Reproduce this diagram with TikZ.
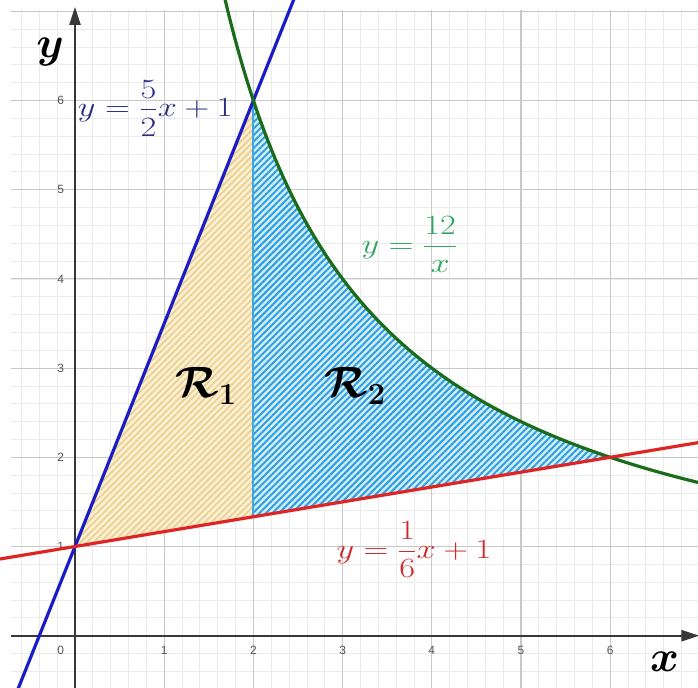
\RequirePackage{fix-cm}
\documentclass[tikz,border=0pt]{standalone}
\usepackage{fontspec}
\usepackage{amsmath,bm,graphicx}
\newfontfamily\tickfont{Liberation Sans}
\usetikzlibrary{patterns.meta,arrows.meta}
\definecolor{gridmajor}{HTML}{C8C8C8}
\definecolor{gridminor}{HTML}{EBEBEB}
\definecolor{axiscol}{HTML}{383838}
\definecolor{bluel}{HTML}{1C1CC4}
\definecolor{navylab}{HTML}{2B2B86}
\definecolor{greenl}{HTML}{1A6B1A}
\definecolor{greenlab}{HTML}{2EA65C}
\definecolor{redl}{HTML}{E02424}
\definecolor{redlab}{HTML}{CC2A2A}
\definecolor{yelbg}{HTML}{FCF0D2}
\definecolor{yelhatch}{HTML}{EBD094}
\definecolor{bluebg}{HTML}{D2EEFB}
\definecolor{bluehatch}{HTML}{2F9EE0}
\definecolor{vlinecol}{HTML}{3AA8E8}
\definecolor{tickcol}{HTML}{555555}
\newcommand{\wideeq}[1]{\scalebox{1.23}[1]{#1}}
\tikzset{
  ticklab/.style={font=\tickfont\fontsize{12}{13}\selectfont, text=tickcol, inner sep=0pt},
  eqlab/.style={font=\fontsize{28}{30}\selectfont, inner sep=0pt},
  reglab/.style={font=\fontsize{44}{46}\selectfont, inner sep=0pt},
  curve/.style={line width=3.2bp},
}
\begin{document}
\begin{tikzpicture}[x=89.2bp,y=89.2bp]
\useasboundingbox (-0.84081,-0.58632) rectangle (6.98430,7.12668);
% grid
\begin{scope}
  \clip (-0.7175,-0.59) rectangle (6.99,7.012);
  \draw[gridminor, line width=0.8bp] (-1,-1) grid[step=0.2] (8,8);
  \draw[gridmajor, line width=1.1bp] (-1,-1) grid[step=1] (8,8);
\end{scope}
% regions
\fill[yelbg] (0,1) -- (2,6) -- (2,4/3) -- cycle;
\fill[pattern={Lines[angle=45,distance=4.6bp,line width=1.8bp]}, pattern color=yelhatch] (0,1) -- (2,6) -- (2,4/3) -- cycle;
\fill[bluebg] (2,4/3) -- (2,6) -- plot[domain=2:6, samples=80] (\x,{12/\x}) -- cycle;
\fill[pattern={Lines[angle=45,distance=4.6bp,line width=2bp]}, pattern color=bluehatch] (2,4/3) -- (2,6) -- plot[domain=2:6, samples=80] (\x,{12/\x}) -- cycle;
\draw[vlinecol, line width=2bp] (2,4/3) -- (2,6);
% axes
\draw[axiscol, line width=2.2bp, -{Triangle[length=18bp,width=11bp]}] (-0.7175,0) -- (7.0,0);
\draw[axiscol, line width=2.2bp, -{Triangle[length=18bp,width=11bp]}] (0,-0.6) -- (0,7.05);
% tick labels
\node[ticklab] (t0) at (-0.16,-0.16) {0};
\foreach \i in {1,...,6}{
  \node[ticklab] (tx\i) at (\i,-0.16) {\i};
  \node[ticklab] (ty\i) at (-0.16,\i) {\i};
}
% curves
\draw[bluel, curve] (-0.66,-0.65) -- (2.47,7.175);
\draw[greenl, curve] plot[domain=1.66:7.0, samples=120, smooth] (\x,{12/\x});
\draw[redl, curve] (-0.85,{1-0.85/6}) -- (7.0,{1+7/6});
% labels
\node[eqlab, text=navylab, anchor=west] (lb) at (0.03,5.915) {\wideeq{$y=\dfrac{5}{2}x+1$}};
\node[eqlab, text=greenlab] (lg) at (3.75,4.38) {\wideeq{$y=\dfrac{12}{x}$}};
\node[eqlab, text=redlab] (lr) at (3.80,0.97) {\wideeq{$y=\dfrac{1}{6}x+1$}};
\node[reglab] (r1) at (1.47,2.80) {$\bm{\mathcal{R}_1}$};
\node[reglab] (r2) at (3.14,2.80) {$\bm{\mathcal{R}_2}$};
\node[reglab] (ly) at (-0.28,6.54) {$\bm{y}$};
\node[reglab] (lx) at (6.61,-0.295) {$\bm{x}$};
\end{tikzpicture}
\end{document}
